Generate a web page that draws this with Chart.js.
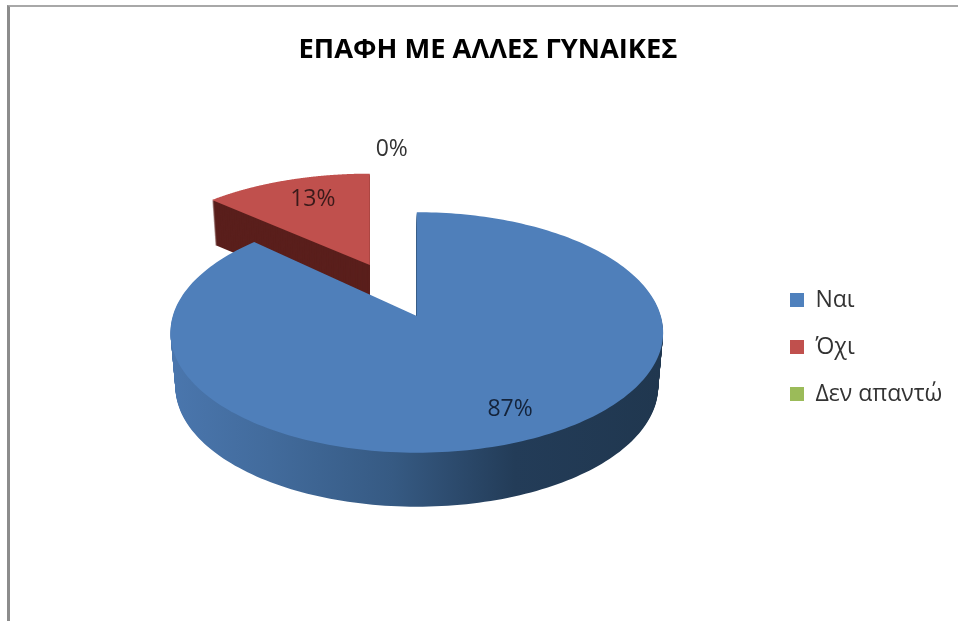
<!DOCTYPE html>
<html><head><meta charset="utf-8">
<style>
html,body{margin:0;padding:0;background:#fff;}
#wrap{position:relative;width:958px;height:621px;overflow:hidden;}
#frame{position:absolute;left:7px;top:5px;right:0;bottom:0;border-left:3px solid #8c8c8c;border-top:2px solid #a8a8a8;}
canvas{position:absolute;left:0;top:0;}
</style>
<script src="https://cdn.jsdelivr.net/npm/chart.js@4"></script>
</head><body>
<div id="wrap"><div id="frame"></div><canvas id="c" width="958" height="621"></canvas></div>
<script>
const chartTitle = 'ΕΠΑΦΗ ΜΕ ΑΛΛΕΣ ΓΥΝΑΙΚΕΣ';
const categories = ['Ναι', 'Όχι', 'Δεν απαντώ'];
const values = [87, 13, 0];
const faceColors = ['#4f7fba', '#c0504d', '#9bbb59'];
const legendColors = ['#4f81bd', '#c0504d', '#9bbb59'];

const FONT = '"Open Sans"';
const K = 0.137, AY = 118 / 246, BX = 244 / 246;

function project(el, u, v) {
  const d = 1 - K * v;
  return { x: el.outerRadius * BX * u / d, y: el.outerRadius * AY * v / d };
}
function slicePath(ctx, el, ox, oy, sx, sy, shrink, dy) {
  const steps = 240, a0 = el.startAngle, a1 = el.endAngle;
  ctx.beginPath();
  ctx.moveTo(ox, oy + dy);
  for (let i = 0; i <= steps; i++) {
    const a = a0 + (a1 - a0) * i / steps;
    const p = project(el, Math.cos(a), Math.sin(a));
    ctx.lineTo(ox + p.x * sx * shrink, oy + p.y * sy + dy);
  }
  ctx.closePath();
}
const pie3d = {
  id: 'pie3d',
  afterLayout(chart) {
    const l = chart.legend;
    const w = l.right - l.left;
    l.left = 766; l.right = 766 + w;
    l.top += 66; l.bottom += 66;
    const t = chart.titleBlock;
    t.left -= 22; t.right -= 22;
  },
  beforeDatasetsDraw(chart) {
    const ctx = chart.ctx;
    const arcs = chart.getDatasetMeta(0).data;
    const blue = arcs[0], red = arcs[1];
    // exploded red slice
    const rox = blue.x - 47, roy = blue.y - 51;
    for (let t = 45; t > 0; t--) {
      slicePath(ctx, red, rox, roy, 0.97, 0.88, 1 - 0.02 * t / 45, t);
      ctx.fillStyle = '#5a1f1c';
      ctx.fill();
    }
    slicePath(ctx, red, rox, roy, 0.97, 0.88, 1, 0);
    ctx.fillStyle = faceColors[1];
    ctx.fill();
    // blue slice
    const g = ctx.createLinearGradient(blue.x - 245, 0, blue.x + 245, 0);
    g.addColorStop(0, '#4a76ad');
    g.addColorStop(0.2, '#426b9c');
    g.addColorStop(0.45, '#365a83');
    g.addColorStop(0.7, '#233c58');
    g.addColorStop(1, '#20374f');
    for (let t = 54; t > 0; t--) {
      slicePath(ctx, blue, blue.x, blue.y, 1, 1, 1 - 0.02 * t / 54, t);
      ctx.fillStyle = g;
      ctx.fill();
    }
    slicePath(ctx, blue, blue.x, blue.y, 1, 1, 1, 0);
    ctx.fillStyle = faceColors[0];
    ctx.fill();
    // labels
    ctx.font = '23px ' + FONT;
    ctx.textAlign = 'center';
    ctx.textBaseline = 'middle';
    const mid = e => (e.startAngle + e.endAngle) / 2;
    const put = (e, val, ox, oy, r, sx, sy, nx, ny, col) => {
      const a = mid(e);
      const p = project(e, r * Math.cos(a), r * Math.sin(a));
      ctx.fillStyle = col;
      ctx.fillText(val + '%', ox + p.x * sx + nx, oy + p.y * sy + ny);
    };
    put(blue, values[0], blue.x, blue.y, 0.78, 1, 1, 9.5, 0, '#14233a');
    put(red, values[1], rox, roy, 0.75, 0.97, 0.88, 7.5, 0, '#3a1a1a');
    put(arcs[2], values[2], blue.x, blue.y, 1.62, 1, 1, -25, -10, '#333');
    return false;
  }
};
new Chart(document.getElementById('c'), {
  type: 'pie',
  data: { labels: categories, datasets: [{ data: values, backgroundColor: legendColors, borderWidth: 0 }] },
  options: {
    responsive: false, animation: false,
    layout: { padding: { left: 62, bottom: 59, right: 0, top: 0 } },
    plugins: {
      title: { display: true, text: chartTitle, color: '#000',
        font: { family: FONT, size: 27.3, weight: 'bold', lineHeight: 1.2 },
        padding: { top: 34, bottom: 3.2 } },
      legend: { position: 'right', align: 'center',
        labels: { boxWidth: 14, boxHeight: 14, padding: 24, color: '#333',
          font: { family: FONT, size: 23 } } },
      tooltip: { enabled: false }
    }
  },
  plugins: [pie3d]
});
</script>
</body></html>
